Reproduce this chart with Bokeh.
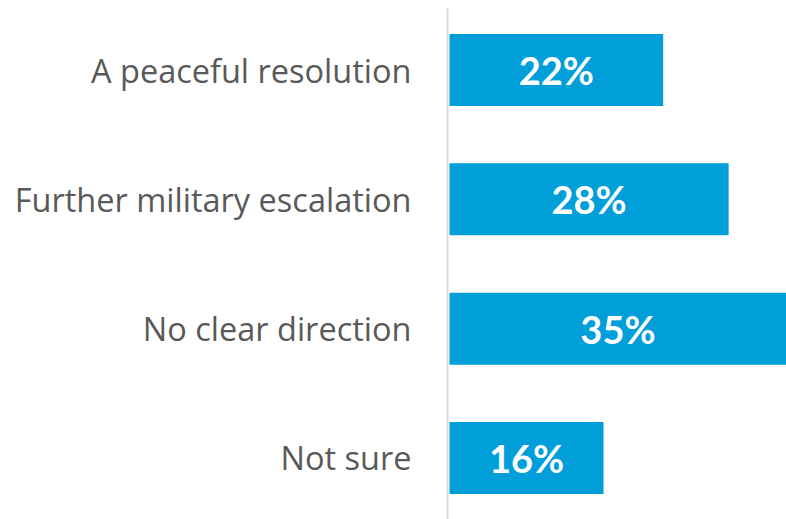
from bokeh.plotting import figure
from bokeh.models import Range1d, FactorRange, ColumnDataSource
from bokeh.core.properties import value
from bokeh.embed import file_html
from bokeh.resources import INLINE

categories = ["A peaceful resolution", "Further military escalation", "No clear direction", "Not sure"]
bar_values = [22.2, 29.0, 35.0, 16.0]
value_labels = ["22%", "28%", "35%", "16%"]

factors = list(reversed(categories))
src = ColumnDataSource(dict(
    cat=categories,
    val=bar_values,
    mid=[v / 2 for v in bar_values],
    lab=value_labels,
))

p = figure(
    width=786, height=519,
    y_range=FactorRange(factors=factors, range_padding=-0.024, range_padding_units="absolute"),
    x_range=Range1d(-0.21, 35.01),
    output_backend="svg", toolbar_location=None,
    min_border_left=447, min_border_right=0, min_border_top=8, min_border_bottom=0,
)
p.outline_line_color = None
p.xgrid.visible = False
p.ygrid.visible = False
p.xaxis.visible = False

ya = p.yaxis[0]
ya.axis_line_color = "#d9d9d9"
ya.axis_line_width = 2
ya.major_tick_line_color = None
ya.minor_tick_line_color = None
ya.major_tick_out = 0
ya.major_tick_in = 0
ya.major_label_standoff = 36
ya.major_label_text_font = "Open Sans"
ya.major_label_text_font_size = "32.5px"
ya.major_label_text_color = "#595959"

p.hbar(y="cat", left=0, right="val", height=0.557, source=src,
       fill_color="#009FDA", line_color=None)
p.text(x="mid", y="cat", text="lab", source=src,
       text_font=value("Lato"), text_font_style="bold", text_font_size="38px",
       text_color="white", text_align="center", text_baseline="middle")

open("out.html", "w").write(file_html(p, INLINE))
